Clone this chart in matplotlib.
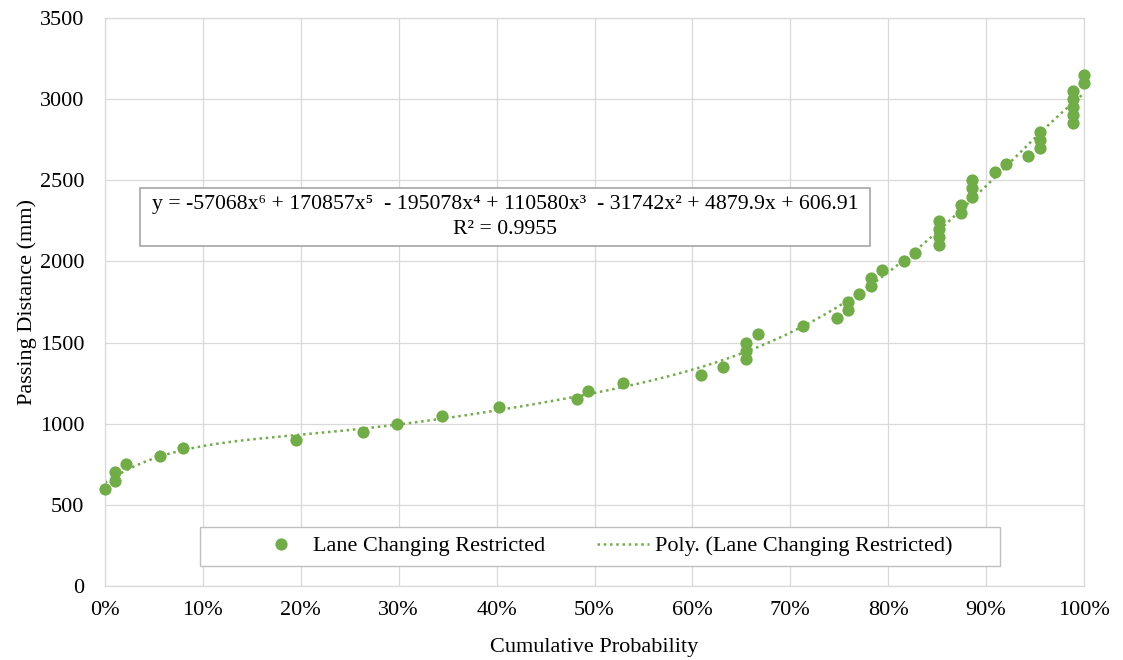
import numpy as np
import matplotlib
matplotlib.use("Agg")
import matplotlib.pyplot as plt
from matplotlib.ticker import PercentFormatter
from matplotlib.patches import Rectangle
from matplotlib.lines import Line2D

# cumulative probability (fraction) and passing distance (mm)
cum_prob = [0.000, 0.010, 0.010, 0.021, 0.056, 0.080, 0.195, 0.264, 0.298, 0.344,
            0.402, 0.482, 0.493, 0.529, 0.609, 0.631, 0.655, 0.655, 0.655, 0.667,
            0.713, 0.748, 0.759, 0.759, 0.770, 0.782, 0.782, 0.794, 0.816, 0.827,
            0.852, 0.852, 0.852, 0.852, 0.874, 0.874, 0.886, 0.886, 0.886, 0.909,
            0.920, 0.943, 0.955, 0.955, 0.955, 0.989, 0.989, 0.989, 0.989, 0.989,
            1.000, 1.000]
passing_mm = [600, 650, 700, 750, 800, 850, 900, 950, 1000, 1050,
              1100, 1150, 1200, 1250, 1300, 1350, 1400, 1450, 1500, 1550,
              1600, 1650, 1700, 1750, 1800, 1850, 1900, 1950, 2000, 2050,
              2100, 2150, 2200, 2250, 2300, 2350, 2400, 2450, 2500, 2550,
              2600, 2650, 2700, 2750, 2800, 2850, 2900, 2950, 3000, 3050,
              3100, 3150]

series_name = "Lane Changing Restricted"
trend_name = "Poly. (Lane Changing Restricted)"
equation = "y = -57068x\u2076 + 170857x\u2075  - 195078x\u2074 + 110580x\u00b3  - 31742x\u00b2 + 4879.9x + 606.91"
r2_text = "R\u00b2 = 0.9955"

green = "#70AD47"
grid_col = "#d9d9d9"
fs = 16

plt.rcParams['font.family'] = ['Liberation Serif', 'DejaVu Serif']
plt.rcParams['font.size'] = fs

fig = plt.figure(figsize=(11.23, 6.6), dpi=100)
ax = fig.add_axes([105 / 1123, 1 - 586 / 660, (1084 - 105) / 1123, (586 - 18) / 660])

# 6th order polynomial trendline, like Excel's
coef = np.polyfit(cum_prob, passing_mm, 6)
xs = np.linspace(0, 1, 300)
ax.plot(xs, np.polyval(coef, xs), color=green, lw=1.8, linestyle=(0, (1, 1.5)), zorder=2)
ax.plot(cum_prob, passing_mm, 'o', color=green, markersize=8.8, markeredgewidth=0,
        clip_on=False, zorder=3)

ax.set_xlim(0, 1)
ax.set_ylim(0, 3500)
ax.set_xticks(np.arange(0, 1.01, 0.1))
ax.set_yticks(np.arange(0, 3501, 500))
ax.xaxis.set_major_formatter(PercentFormatter(1.0, decimals=0))
ax.grid(True, color=grid_col, lw=0.9)
ax.set_axisbelow(True)
for s in ax.spines.values():
    s.set_color(grid_col)
    s.set_linewidth(0.9)
ax.tick_params(length=0, labelsize=fs)
ax.tick_params(axis='y', pad=15)
ax.tick_params(axis='x', pad=11)

ax.set_xlabel("Cumulative Probability", fontsize=fs, labelpad=13)
ax.set_ylabel("Passing Distance (mm)", fontsize=fs, labelpad=2)

# equation box
ax.add_patch(Rectangle(((140 - 105) / 979, (586 - 246) / 568),
                       (870 - 140) / 979, (246 - 188) / 568, transform=ax.transAxes,
                       facecolor="white", edgecolor="#a6a6a6", lw=1.2, zorder=4))
ax.text((505 - 105) / 979, (586 - 204) / 568, equation, transform=ax.transAxes,
        ha="center", va="center", fontsize=15.7, zorder=5)
ax.text((505 - 105) / 979, (586 - 230) / 568, r2_text, transform=ax.transAxes,
        ha="center", va="center", fontsize=15.7, zorder=5)

# legend box
ax.add_patch(Rectangle(((200 - 105) / 979, (586 - 566) / 568), (1000 - 200) / 979,
                       (566 - 527) / 568, transform=ax.transAxes,
                       facecolor="white", edgecolor="#bfbfbf", lw=1.0, zorder=4))
handles = [Line2D([], [], marker='o', color=green, lw=0, markersize=8.8, markeredgewidth=0),
           Line2D([], [], color=green, lw=1.8, linestyle=(0, (1, 1.5)))]
leg = ax.legend(handles, [series_name, trend_name], loc="center",
                bbox_to_anchor=((604 - 105) / 979, (586 - 546) / 568), ncol=2,
                frameon=False, fontsize=fs, handlelength=2.3, handletextpad=0.3,
                columnspacing=2.35)
leg.set_zorder(6)

fig.savefig("out.png", dpi=100)
